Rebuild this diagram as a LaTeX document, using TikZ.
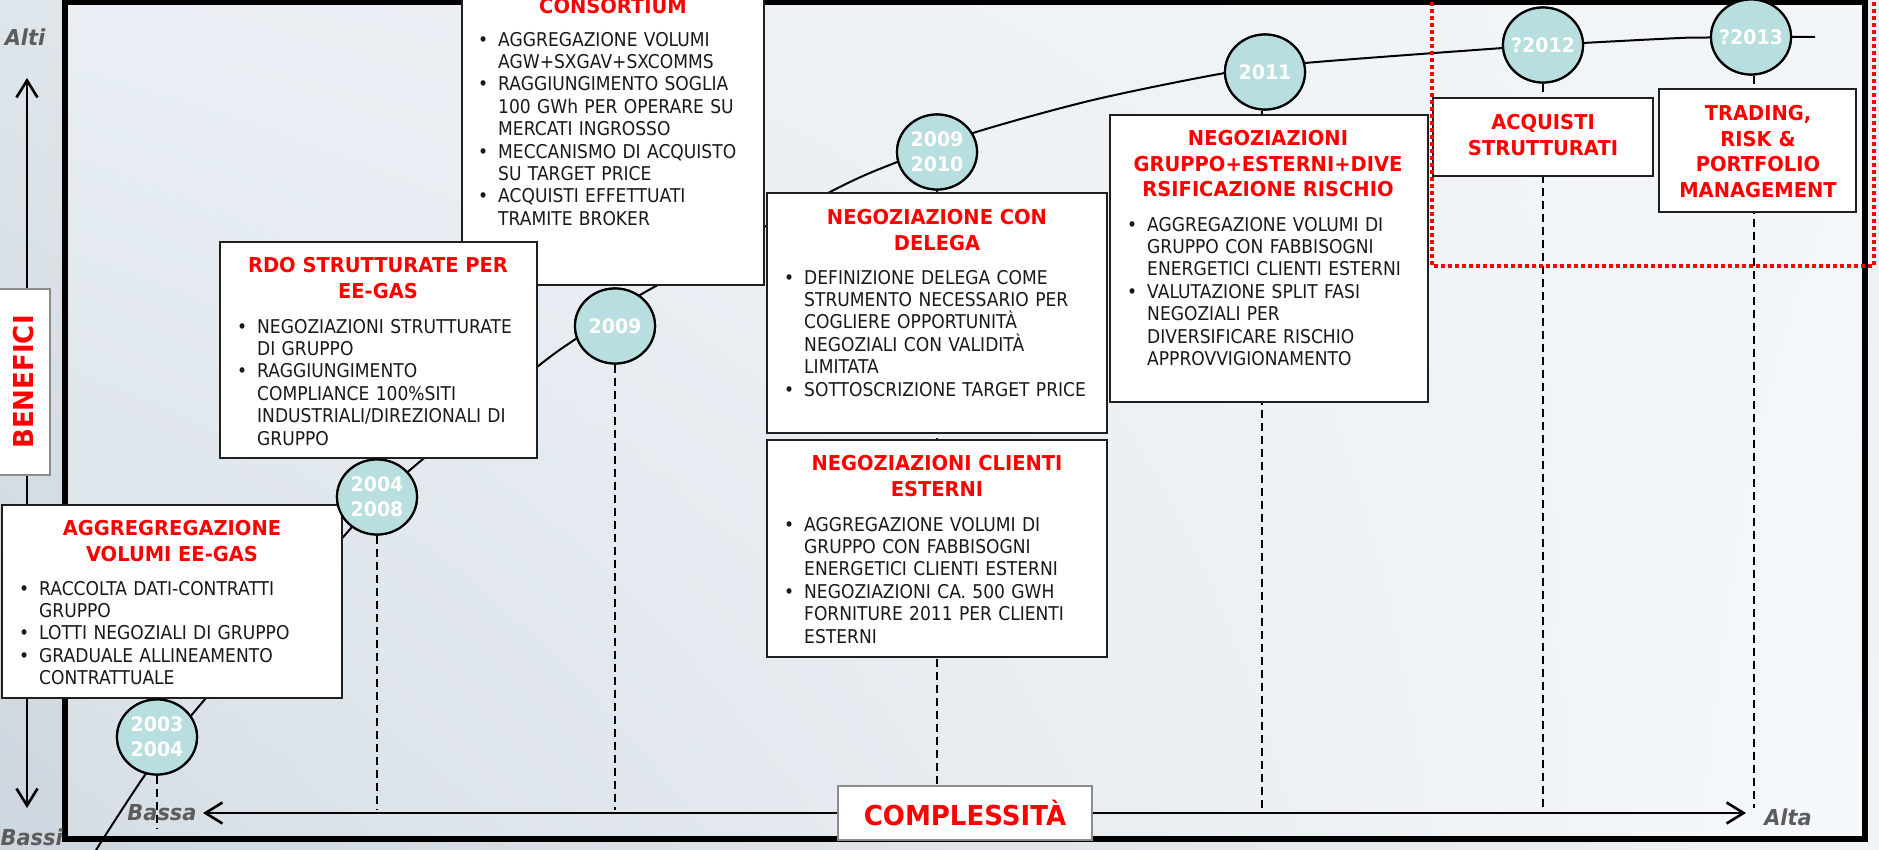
\documentclass[tikz,border=0pt]{standalone}
\usepackage{fontspec}
\setmainfont{DejaVu Sans}[FakeStretch=0.9]
\newfontfamily\headfont{DejaVu Sans}[FakeStretch=0.95]
\usetikzlibrary{arrows.meta,shapes.geometric,shadings}

\definecolor{titred}{RGB}{255,0,0}
\definecolor{bodyink}{RGB}{25,25,25}
\definecolor{yearfill}{RGB}{185,222,224}
\definecolor{axisgray}{RGB}{92,92,92}
\definecolor{edgegray}{RGB}{140,140,140}
\definecolor{bgUL}{RGB}{222,229,235}
\definecolor{bgUR}{RGB}{236,240,244}
\definecolor{bgLL}{RGB}{205,214,222}
\definecolor{bgLR}{RGB}{240,243,246}
\definecolor{inUL}{RGB}{233,239,244}
\definecolor{inUR}{RGB}{242,246,249}
\definecolor{inLL}{RGB}{214,222,229}
\definecolor{inLR}{RGB}{246,249,251}

% one bulleted item with hanging indent
\newcommand\bitem[1]{\par\noindent\hangindent=20pt\hangafter=1\makebox[20pt][l]{\textbullet}#1\par}
% year label that never widens its ellipse
\newcommand\ytxt[1]{\makebox[0pt]{#1}}

\tikzset{
  card/.style={draw=black!88, line width=2.2pt, fill=white, inner sep=0pt},
  cardhead/.style={font={\headfont\bfseries\fontsize{20.5}{25.5}\selectfont}, text=titred,
    align=center, inner sep=0pt, anchor=north},
  cardbody/.style={font={\fontsize{19}{22.4}\selectfont}, text=bodyink, text width=600pt,
    inner sep=0pt, anchor=north west},
  year/.style={ellipse, draw=black, line width=2.2pt, fill=yearfill, minimum width=80pt,
    minimum height=75pt, inner sep=0pt, text=white, align=center,
    font={\headfont\bfseries\fontsize{20}{25}\selectfont}},
  guide/.style={draw=black, line width=2pt, dash pattern=on 8pt off 5pt},
  axisline/.style={draw=black, line width=2.6pt,
    {Straight Barb[length=17pt,width=21pt]}-{Straight Barb[length=17pt,width=21pt]}},
  endlabel/.style={text=axisgray, inner sep=0pt,
    font={\headfont\bfseries\itshape\fontsize{22}{26}\selectfont}},
  axisbox/.style={draw=edgegray, line width=2pt, fill=white, inner sep=0pt, text=titred,
    font={\headfont\bfseries\fontsize{27.4}{32}\selectfont}}
}

\begin{document}
\begin{tikzpicture}[x=1pt,y=-1pt]
\useasboundingbox (0,0) rectangle (1879,850);

% backdrop
\shade[upper left=bgUL, upper right=bgUR, lower left=bgLL, lower right=bgLR]
  (0,0) rectangle (1879,850);
\shade[upper left=inUL, upper right=inUR, lower left=inLL, lower right=inLR]
  (65,2) rectangle (1865,839);

% year milestones
\node[year] (y1) at (157,737) {2003\\2004};
\node[year] (y2) at (377,497) {2004\\2008};
\node[year] (y3) at (615,326) {\ytxt{2009}};
\node[year] (y4) at (937,152) {2009\\2010};
\node[year] (y5) at (1265,72) {\ytxt{2011}};
\node[year] (y6) at (1543,45) {\ytxt{?2012}};
\node[year] (y7) at (1751,37) {\ytxt{?2013}};

% feet of the guide lines
\coordinate (g1) at (157,828);
\coordinate (g2) at (377,810);
\coordinate (g3) at (615,810);
\coordinate (g4) at (937,786);
\coordinate (g5) at (1262,810);
\coordinate (g6) at (1543,810);
\coordinate (g7) at (1754,808);

\draw[guide] (y1.south) -- (g1);
\draw[guide] (y2.south) -- (g2);
\draw[guide] (y3.south) -- (g3);
\draw[guide] (y4.south) -- (g4);
\draw[guide] (y5.south -| g5) -- (g5);
\draw[guide] (y6.south) -- (g6);
\draw[guide] (y7.south -| g7) -- (g7);

% growth curve
\draw[line width=2pt, black] plot[smooth, tension=0.5] coordinates {
  (96,850) (145,775) (190,717) (352,527) (410,470) (537,367) (577,338)
  (640,295) (830,192) (897,162) (973,133) (1093,100) (1225,73) (1305,63)
  (1503,48) (1583,43) (1680,38) (1708,37.5) (1788,37) (1815,37)};

% axes
\coordinate (axL) at (203,813);
\coordinate (axR) at (1746,813);
\coordinate (axT) at (27,78);
\coordinate (axB) at (27,808);
\draw[axisline] (axL) -- (axR);
\draw[axisline] (axB) -- (axT);

% outer frame
\draw[line width=6pt, black] (65,2) rectangle (1865,839);

% phase cards
\node[card, minimum width=302pt, minimum height=365pt] (boxC) at (613,102.5) {};
\node[cardhead] (hC) at (613,-2) {CONSORTIUM};
\node[cardbody] (tC) at (478,23.5) {%
  \bitem{AGGREGAZIONE VOLUMI\newline AGW+SXGAV+SXCOMMS}
  \bitem{RAGGIUNGIMENTO SOGLIA\newline 100 GWh PER OPERARE SU\newline MERCATI INGROSSO}
  \bitem{MECCANISMO DI ACQUISTO\newline SU TARGET PRICE}
  \bitem{ACQUISTI EFFETTUATI\newline TRAMITE BROKER}};

\node[card, minimum width=340pt, minimum height=193pt] (boxA) at (172,601.5) {};
\node[cardhead] (hA) at (172,520.5) {AGGREGREGAZIONE\\VOLUMI EE-GAS};
\node[cardbody] (tA) at (19,572.5) {%
  \bitem{RACCOLTA DATI-CONTRATTI\newline GRUPPO}
  \bitem{LOTTI NEGOZIALI DI GRUPPO}
  \bitem{GRADUALE ALLINEAMENTO\newline CONTRATTUALE}};

\node[card, minimum width=317pt, minimum height=216pt] (boxB) at (378.5,350) {};
\node[cardhead] (hB) at (378,257.5) {RDO STRUTTURATE PER\\EE-GAS};
\node[cardbody] (tB) at (237,310.5) {%
  \bitem{NEGOZIAZIONI STRUTTURATE\newline DI GRUPPO}
  \bitem{RAGGIUNGIMENTO\newline COMPLIANCE 100\%SITI\newline INDUSTRIALI/DIREZIONALI DI\newline GRUPPO}};

\node[card, minimum width=340pt, minimum height=240pt] (boxD) at (937,313) {};
\node[cardhead] (hD) at (937,209.5) {NEGOZIAZIONE CON\\DELEGA};
\node[cardbody] (tD) at (784,261.5) {%
  \bitem{DEFINIZIONE DELEGA COME\newline STRUMENTO NECESSARIO PER\newline COGLIERE OPPORTUNITÀ\newline NEGOZIALI CON VALIDITÀ\newline LIMITATA}
  \bitem{SOTTOSCRIZIONE TARGET PRICE}};

\node[card, minimum width=340pt, minimum height=217pt] (boxE) at (937,548.5) {};
\node[cardhead] (hE) at (937,455.5) {NEGOZIAZIONI CLIENTI\\ESTERNI};
\node[cardbody] (tE) at (784,508.5) {%
  \bitem{AGGREGAZIONE VOLUMI DI\newline GRUPPO CON FABBISOGNI\newline ENERGETICI CLIENTI ESTERNI}
  \bitem{NEGOZIAZIONI CA. 500 GWH\newline FORNITURE 2011 PER CLIENTI\newline ESTERNI}};

\node[card, minimum width=318pt, minimum height=287pt] (boxF) at (1269,258.5) {};
\node[cardhead] (hF) at (1268,130.5) {NEGOZIAZIONI\\GRUPPO+ESTERNI+DIVE\\RSIFICAZIONE RISCHIO};
\node[cardbody] (tF) at (1127,208.5) {%
  \bitem{AGGREGAZIONE VOLUMI DI\newline GRUPPO CON FABBISOGNI\newline ENERGETICI CLIENTI ESTERNI}
  \bitem{VALUTAZIONE SPLIT FASI\newline NEGOZIALI PER\newline DIVERSIFICARE RISCHIO\newline APPROVVIGIONAMENTO}};

\node[card, minimum width=220pt, minimum height=78pt] (boxG) at (1543,137) {};
\node[cardhead] (hG) at (1543,114.5) {ACQUISTI\\STRUTTURATI};

\node[card, minimum width=197pt, minimum height=123pt] (boxH) at (1757.5,150.5) {};
\node[cardhead] (hH) at (1758,105.5) {TRADING,\\RISK \&\\PORTFOLIO\\MANAGEMENT};

% milestones drawn again above the cards
\node[year] at (y1) {2003\\2004};
\node[year] at (y2) {2004\\2008};
\node[year] at (y3) {\ytxt{2009}};
\node[year] at (y4) {2009\\2010};
\node[year] at (y5) {\ytxt{2011}};
\node[year] at (y6) {\ytxt{?2012}};
\node[year] at (y7) {\ytxt{?2013}};

% axis captions
\node[axisbox, minimum width=185pt, minimum height=51pt, rotate=90] (ben) at (24,382) {BENEFICI};
\node[axisbox, minimum width=254pt, minimum height=54pt] (cpx) at (965,813) {COMPLESSITÀ};
\node[endlabel] (alti) at (25,37) {Alti};
\node[endlabel, anchor=west] (bassi) at (0.5,837) {Bassi};
\node[endlabel] (bassa) at (162,813) {Bassa};
\node[endlabel] (alta) at (1788,817) {Alta};

% future area
\draw[titred, line width=4pt, dash pattern=on 4pt off 3pt]
  (1432,-5) -- (1432,266) -- (1874,266) -- (1874,-5);
\end{tikzpicture}
\end{document}
